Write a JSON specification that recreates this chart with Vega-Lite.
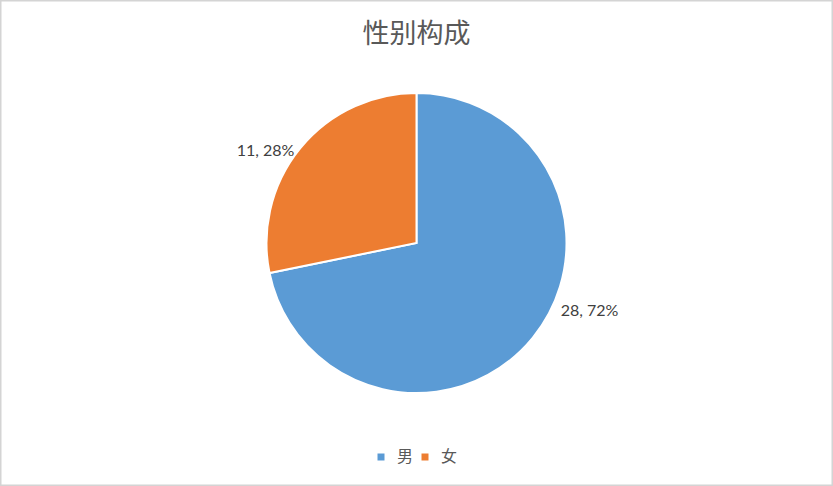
{
  "$schema": "https://vega.github.io/schema/vega-lite/v6.json",
  "width": 833,
  "height": 486,
  "autosize": {"type": "none"},
  "padding": 0,
  "background": "white",
  "view": {"stroke": "#d4d4d4", "strokeWidth": 3, "fill": "white"},
  "config": {"font": "Noto Sans CJK SC"},
  "title": {
    "text": "性别构成",
    "fontSize": 27,
    "fontWeight": "normal",
    "color": "#595959",
    "font": "Noto Sans CJK SC",
    "anchor": "middle",
    "baseline": "bottom",
    "offset": -76
  },
  "data": {
    "values": [
      {"性别": "男", "人数": 28, "标签": "28, 72%"},
      {"性别": "女", "人数": 11, "标签": "11, 28%"}
    ]
  },
  "transform": [
    {"stack": "人数", "groupby": [], "sort": [{"field": "性别", "order": "descending"}], "as": ["起", "止"]},
    {"calculate": "(datum['起'] + datum['止']) / 2", "as": "中"}
  ],
  "layer": [
    {
      "mark": {"type": "arc", "outerRadius": 150, "stroke": "white", "strokeWidth": 2},
      "encoding": {
        "theta": {"field": "起", "type": "quantitative", "stack": null, "scale": {"domain": [0, 39]}},
        "theta2": {"field": "止"},
        "color": {
          "field": "性别",
          "type": "nominal",
          "scale": {"domain": ["男", "女"], "range": ["#5b9bd5", "#ed7d31"]},
          "legend": {
            "title": null,
            "orient": "none",
            "legendX": 373,
            "legendY": 449,
            "direction": "horizontal",
            "symbolType": "square",
            "symbolSize": 49,
            "symbolStrokeWidth": 0,
            "labelFontSize": 16,
            "labelColor": "#595959",
            "labelFont": "Noto Sans CJK SC",
            "labelOffset": 8,
            "columnPadding": 3
          }
        }
      }
    },
    {
      "transform": [{"filter": "datum['性别'] === '男'"}],
      "mark": {"type": "text", "radius": 150, "align": "left", "baseline": "middle", "dx": 28, "dy": -27, "fontSize": 16, "font": "Lato", "color": "#404040"},
      "encoding": {
        "theta": {"field": "中", "type": "quantitative", "stack": null},
        "text": {"field": "标签"}
      }
    },
    {
      "transform": [{"filter": "datum['性别'] === '女'"}],
      "mark": {"type": "text", "radius": 150, "align": "right", "baseline": "middle", "dx": -6, "dy": 3, "fontSize": 16, "font": "Lato", "color": "#404040"},
      "encoding": {
        "theta": {"field": "中", "type": "quantitative", "stack": null},
        "text": {"field": "标签"}
      }
    }
  ]
}
